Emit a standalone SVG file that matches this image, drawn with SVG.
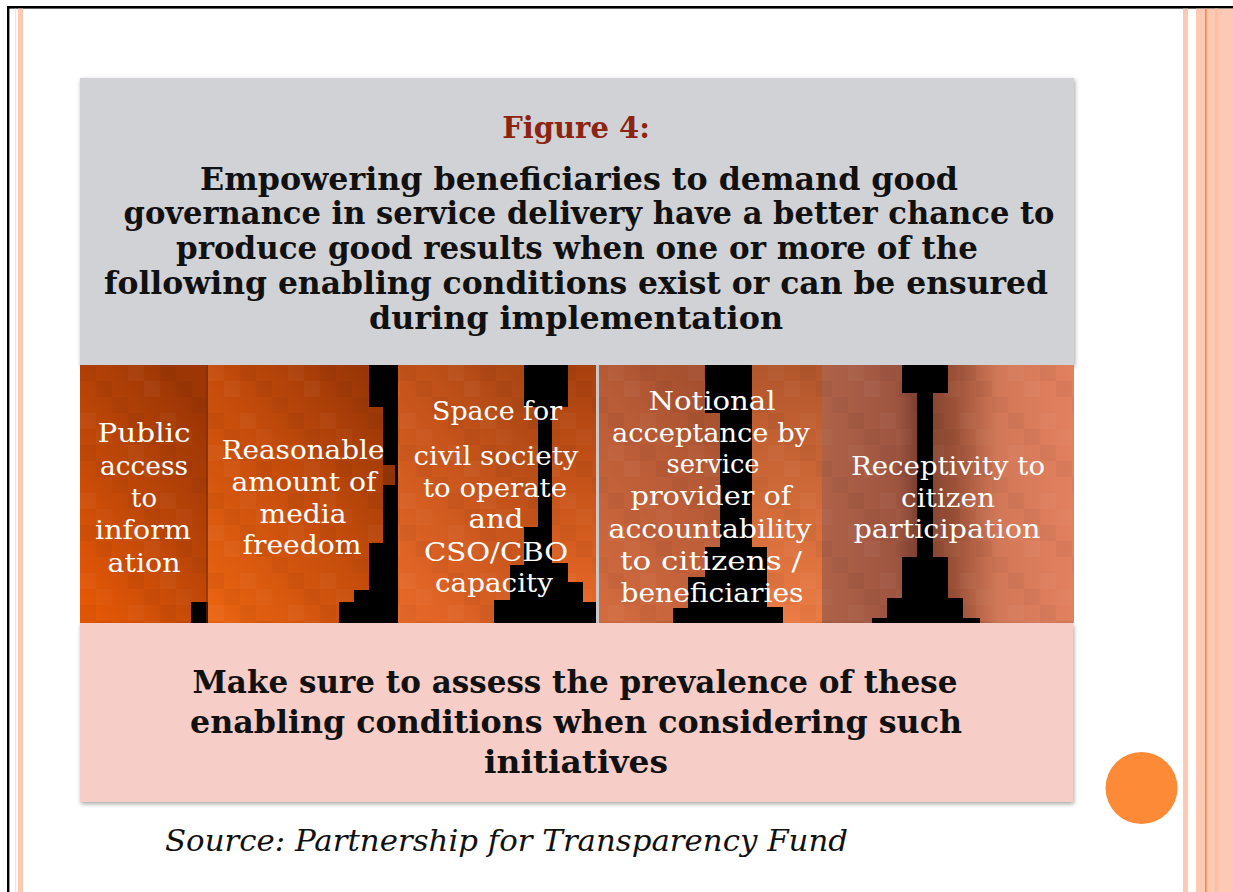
<svg xmlns="http://www.w3.org/2000/svg" width="1233" height="892" viewBox="0 0 1233 892">
  <style>
    .title { font-family: "DejaVu Serif", "Liberation Serif", serif; font-weight: bold; font-size: 31px; fill: #111; text-anchor: middle; }
    .fig { font-family: "DejaVu Serif", "Liberation Serif", serif; font-weight: bold; font-size: 29px; fill: #8c2414; text-anchor: middle; }
    .col { font-family: "DejaVu Serif", "Liberation Serif", serif; font-size: 26px; fill: #fff; text-anchor: middle; }
    .note { font-family: "DejaVu Serif", "Liberation Serif", serif; font-weight: bold; font-size: 31px; fill: #111; text-anchor: middle; }
    .src { font-family: "DejaVu Serif", "Liberation Serif", serif; font-style: italic; font-size: 30px; fill: #111; }
    .sil { fill: #000; }
    .stripe { fill: #fdc8b4; }
  </style>
  <defs>
    <filter id="shadow" x="-5%" y="-5%" width="110%" height="115%">
      <feDropShadow dx="1" dy="2" stdDeviation="2" flood-color="#000" flood-opacity="0.35"/>
    </filter>
    <!-- blocky mosaic overlay, irregular 5x5 tile of 16px cells -->
    <pattern id="mosaic" width="80" height="80" patternUnits="userSpaceOnUse" x="80" y="365">
      <rect x="0" y="0" width="16" height="16" fill="#000" opacity="0.035"/>
      <rect x="48" y="0" width="16" height="16" fill="#fff" opacity="0.03"/>
      <rect x="16" y="16" width="16" height="16" fill="#000" opacity="0.04"/>
      <rect x="64" y="16" width="16" height="16" fill="#fff" opacity="0.035"/>
      <rect x="32" y="32" width="16" height="16" fill="#000" opacity="0.03"/>
      <rect x="0" y="48" width="16" height="16" fill="#fff" opacity="0.03"/>
      <rect x="48" y="48" width="16" height="16" fill="#000" opacity="0.04"/>
      <rect x="16" y="64" width="16" height="16" fill="#fff" opacity="0.025"/>
      <rect x="64" y="64" width="16" height="16" fill="#000" opacity="0.03"/>
    </pattern>
    <linearGradient id="g1" x1="0" y1="1" x2="0.7" y2="0">
      <stop offset="0" stop-color="#ea5a06"/>
      <stop offset="0.5" stop-color="#c04808"/>
      <stop offset="1" stop-color="#9c3605"/>
    </linearGradient>
    <linearGradient id="g2" x1="0" y1="1" x2="1" y2="0">
      <stop offset="0" stop-color="#ec6512"/>
      <stop offset="0.5" stop-color="#c44c0b"/>
      <stop offset="1" stop-color="#8e3005"/>
    </linearGradient>
    <linearGradient id="g3" x1="0" y1="1" x2="1" y2="0">
      <stop offset="0" stop-color="#ea6a2a"/>
      <stop offset="0.5" stop-color="#c4531a"/>
      <stop offset="1" stop-color="#983d10"/>
    </linearGradient>
    <linearGradient id="g3r" x1="0" y1="0" x2="0" y2="1">
      <stop offset="0" stop-color="#a8400e"/>
      <stop offset="1" stop-color="#ea6a28"/>
    </linearGradient>
    <linearGradient id="g4" x1="0" y1="1" x2="1" y2="0">
      <stop offset="0" stop-color="#d46c40"/>
      <stop offset="0.5" stop-color="#b65a36"/>
      <stop offset="1" stop-color="#8a4024"/>
    </linearGradient>
    <linearGradient id="g4r" x1="0" y1="0" x2="0" y2="1">
      <stop offset="0" stop-color="#b2562c"/>
      <stop offset="1" stop-color="#ec7c44"/>
    </linearGradient>
    <linearGradient id="g5" x1="0" y1="0" x2="1" y2="0">
      <stop offset="0" stop-color="#ae6248"/>
      <stop offset="0.3" stop-color="#9e5540"/>
      <stop offset="0.38" stop-color="#7e4030"/>
      <stop offset="0.52" stop-color="#9a5036"/>
      <stop offset="0.7" stop-color="#d27858"/>
      <stop offset="1" stop-color="#e2805e"/>
    </linearGradient>
  </defs>

  <!-- page frame and side stripes -->
  <rect x="0" y="0" width="1233" height="892" fill="#fff"/>
  <rect x="7" y="6" width="1226" height="2.6" fill="#000"/>
  <rect x="7" y="6" width="2.4" height="886" fill="#000"/>
  <rect x="15" y="8.6" width="1.2" height="884" fill="#fde0d4"/>
  <rect x="18" y="8.6" width="5" height="884" class="stripe"/>
  <rect x="1183" y="8.6" width="5" height="884" class="stripe"/>
  <rect x="1196" y="8.6" width="37" height="884" class="stripe"/>
  <rect x="1215" y="8.6" width="3" height="884" fill="#fbbea6"/>
  <rect x="1205" y="8.6" width="1.6" height="884" fill="#fd8a36"/>

  <!-- heading box -->
  <g id="heading">
    <rect x="80" y="78" width="994" height="287" fill="#d1d2d6" filter="url(#shadow)"/>
    <text class="fig" x="576" y="138">Figure 4:</text>
    <text class="title" x="579" y="190" textLength="758" lengthAdjust="spacingAndGlyphs">Empowering beneficiaries to demand good</text>
    <text class="title" x="589" y="224" textLength="931" lengthAdjust="spacingAndGlyphs">governance in service delivery have a better chance to</text>
    <text class="title" x="577" y="259" textLength="802" lengthAdjust="spacingAndGlyphs">produce good results when one or more of the</text>
    <text class="title" x="576" y="294" textLength="944" lengthAdjust="spacingAndGlyphs">following enabling conditions exist or can be ensured</text>
    <text class="title" x="576" y="329" textLength="414" lengthAdjust="spacingAndGlyphs">during implementation</text>
  </g>

  <!-- condition 1 -->
  <g id="cond-public-access">
    <rect x="80" y="365" width="128" height="258" fill="url(#g1)"/>
    <rect x="80" y="365" width="128" height="258" fill="url(#mosaic)"/>
    <rect x="191" y="602" width="17" height="21" class="sil"/>
    <rect x="206" y="365" width="2" height="258" fill="#7a2a04" opacity="0.5"/>
    <text class="col" x="144" y="442" textLength="93" lengthAdjust="spacingAndGlyphs">Public</text>
    <text class="col" x="144" y="475" textLength="88" lengthAdjust="spacingAndGlyphs">access</text>
    <text class="col" x="144" y="507" textLength="26" lengthAdjust="spacingAndGlyphs">to</text>
    <text class="col" x="143" y="539" textLength="96" lengthAdjust="spacingAndGlyphs">inform</text>
    <text class="col" x="144" y="572" textLength="73" lengthAdjust="spacingAndGlyphs">ation</text>
  </g>

  <!-- condition 2 -->
  <g id="cond-media-freedom">
    <rect x="208" y="365" width="190" height="258" fill="url(#g2)"/>
    <rect x="208" y="365" width="190" height="258" fill="url(#mosaic)"/>
    <polygon class="sil" points="369,365 398,365 398,465 383,465 383,407 369,407"/>
    <polygon class="sil" points="383,485 398,485 398,623 339,623 339,602 354,602 354,590 369,590 369,543 383,543"/>
    <rect x="383" y="465" width="15" height="20" fill="#8e3406"/>
    <text class="col" x="303" y="459" textLength="163" lengthAdjust="spacingAndGlyphs">Reasonable</text>
    <text class="col" x="304" y="491" textLength="145" lengthAdjust="spacingAndGlyphs">amount of</text>
    <text class="col" x="303" y="523" textLength="87" lengthAdjust="spacingAndGlyphs">media</text>
    <text class="col" x="302" y="554" textLength="119" lengthAdjust="spacingAndGlyphs">freedom</text>
  </g>

  <!-- condition 3 -->
  <g id="cond-civil-society">
    <rect x="398" y="365" width="199" height="258" fill="url(#g3)"/>
    <rect x="552" y="365" width="45" height="258" fill="url(#g3r)"/>
    <rect x="398" y="365" width="199" height="258" fill="url(#mosaic)"/>
    <polygon class="sil" points="524,365 568,365 568,407 552,407 552,563 568,563 568,582 583,582 583,602 597,602 597,623 494,623 494,600 510,600 510,565 524,565 524,527 538,527 538,407 524,407"/>
    <rect x="395" y="365" width="3" height="258" fill="#000"/>
    <text class="col" x="497" y="420" textLength="130" lengthAdjust="spacingAndGlyphs">Space for</text>
    <text class="col" x="496" y="465" textLength="165" lengthAdjust="spacingAndGlyphs">civil society</text>
    <text class="col" x="495" y="497" textLength="144" lengthAdjust="spacingAndGlyphs">to operate</text>
    <text class="col" x="496" y="528" textLength="55" lengthAdjust="spacingAndGlyphs">and</text>
    <text class="col" x="496" y="561" textLength="144" lengthAdjust="spacingAndGlyphs">CSO/CBO</text>
    <text class="col" x="494" y="592" textLength="118" lengthAdjust="spacingAndGlyphs">capacity</text>
  </g>

  <!-- condition 4 -->
  <g id="cond-accountability">
    <rect x="598" y="365" width="224" height="258" fill="url(#g4)"/>
    <rect x="752" y="365" width="70" height="258" fill="url(#g4r)"/>
    <rect x="598" y="365" width="224" height="258" fill="url(#mosaic)"/>
    <polygon class="sil" points="705,365 752,365 752,547 767,547 767,607 783,607 783,623 673,623 673,608 688,608 688,577 705,577 705,547 720,547 720,413 705,413"/>
    <rect x="596" y="365" width="3" height="258" fill="#c8c8cc"/>
    <text class="col" x="712" y="410" textLength="127" lengthAdjust="spacingAndGlyphs">Notional</text>
    <text class="col" x="711" y="442" textLength="198" lengthAdjust="spacingAndGlyphs">acceptance by</text>
    <text class="col" x="713" y="473" textLength="93" lengthAdjust="spacingAndGlyphs">service</text>
    <text class="col" x="711" y="505" textLength="161" lengthAdjust="spacingAndGlyphs">provider  of</text>
    <text class="col" x="710" y="538" textLength="203" lengthAdjust="spacingAndGlyphs">accountability</text>
    <text class="col" x="711" y="570" textLength="182" lengthAdjust="spacingAndGlyphs">to citizens /</text>
    <text class="col" x="712" y="602" textLength="183" lengthAdjust="spacingAndGlyphs">beneficiaries</text>
  </g>

  <!-- condition 5 -->
  <g id="cond-receptivity">
    <rect x="822" y="365" width="252" height="258" fill="url(#g5)"/>
    <rect x="822" y="365" width="252" height="258" fill="url(#mosaic)"/>
    <polygon class="sil" points="902,365 948,365 948,393 933,393 933,557 948,557 948,598 963,598 963,618 980,618 980,623 872,623 872,618 887,618 887,598 902,598 902,557 917,557 917,393 902,393"/>
    <text class="col" x="948" y="475" textLength="194" lengthAdjust="spacingAndGlyphs">Receptivity to</text>
    <text class="col" x="948" y="507" textLength="94" lengthAdjust="spacingAndGlyphs">citizen</text>
    <text class="col" x="947" y="538" textLength="187" lengthAdjust="spacingAndGlyphs">participation</text>
  </g>

  <!-- advice box -->
  <g id="advice">
    <rect x="80" y="623" width="993" height="179" fill="#f6cdc7" filter="url(#shadow)"/>
    <text class="note" x="575" y="693" textLength="765" lengthAdjust="spacingAndGlyphs">Make sure to assess the prevalence of these</text>
    <text class="note" x="576" y="733" textLength="772" lengthAdjust="spacingAndGlyphs">enabling conditions when considering such</text>
    <text class="note" x="576" y="773" textLength="184" lengthAdjust="spacingAndGlyphs">initiatives</text>
  </g>

  <circle id="dot" cx="1141.5" cy="788" r="36" fill="#fd8a36"/>

  <text id="source" class="src" x="165" y="851" textLength="683" lengthAdjust="spacingAndGlyphs">Source: Partnership for Transparency Fund</text>
</svg>
